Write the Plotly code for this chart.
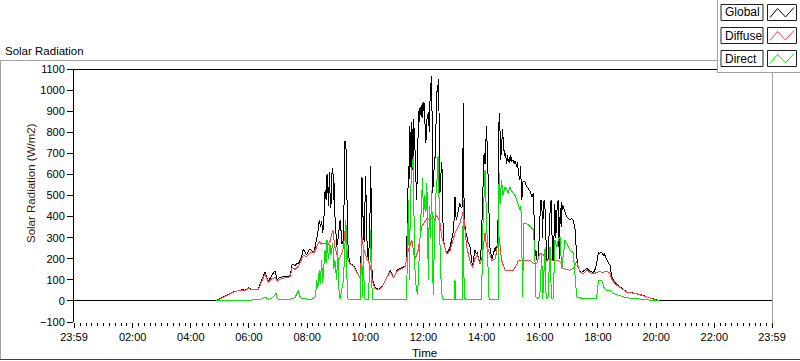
import plotly.graph_objects as go

DAY = "2024-01-02"
PREV = "2024-01-01"

# ---------------- data ----------------
global_times = [
    "00:00", "04:52", "05:00", "05:07", "05:14", "05:21", "05:28", "05:35", "05:41", "05:47",
    "05:52", "05:56", "05:59", "06:03", "06:06", "06:12", "06:19", "06:22", "06:26", "06:30",
    "06:33", "06:36", "06:40", "06:44", "06:47", "06:51", "06:54", "06:56", "06:58", "07:02",
    "07:07", "07:12", "07:18", "07:22", "07:25", "07:27", "07:29", "07:32", "07:35", "07:39",
    "07:42", "07:46", "07:49", "07:52", "07:56", "07:59", "08:03", "08:07", "08:10", "08:14",
    "08:17", "08:20", "08:23", "08:25", "08:28", "08:30", "08:32", "08:34", "08:37", "08:39",
    "08:41", "08:42", "08:44", "08:46", "08:47", "08:49", "08:51", "08:53", "08:55", "08:56",
    "08:57", "08:59", "09:01", "09:04", "09:06", "09:08", "09:10", "09:12", "09:15", "09:17",
    "09:18", "09:20", "09:22", "09:24", "09:26", "09:28", "09:31", "09:35", "09:40", "09:46",
    "09:50", "09:52", "09:53", "09:54", "09:56", "09:58", "09:59", "10:00", "10:01", "10:03",
    "10:06", "10:09", "10:10", "10:11", "10:12", "10:14", "10:17", "10:20", "10:24", "10:27",
    "10:31", "10:34", "10:39", "10:44", "10:48", "10:52", "10:55", "10:58", "11:02", "11:05",
    "11:08", "11:12", "11:17", "11:22", "11:25", "11:27", "11:29", "11:30", "11:32", "11:33",
    "11:35", "11:36", "11:37", "11:38", "11:39", "11:40", "11:41", "11:42", "11:44", "11:46",
    "11:48", "11:50", "11:51", "11:53", "11:54", "11:56", "11:57", "11:58", "12:00", "12:01",
    "12:03", "12:05", "12:07", "12:10", "12:12", "12:14", "12:17", "12:18", "12:19", "12:21",
    "12:24", "12:26", "12:27", "12:29", "12:31", "12:32", "12:33", "12:34", "12:36", "12:38",
    "12:40", "12:41", "12:44", "12:48", "12:52", "12:55", "12:58", "13:01", "13:03", "13:05",
    "13:06", "13:08", "13:11", "13:15", "13:18", "13:21", "13:22", "13:23", "13:24", "13:27",
    "13:29", "13:32", "13:36", "13:39", "13:41", "13:44", "13:46", "13:49", "13:51", "13:54",
    "13:56", "13:59", "14:01", "14:03", "14:05", "14:07", "14:10", "14:12", "14:14", "14:17",
    "14:21", "14:24", "14:28", "14:31", "14:34", "14:36", "14:38", "14:39", "14:41", "14:43",
    "14:45", "14:47", "14:49", "14:52", "14:53", "14:55", "14:57", "14:58", "15:00", "15:02",
    "15:05", "15:07", "15:09", "15:12", "15:14", "15:16", "15:19", "15:20", "15:22", "15:23",
    "15:25", "15:26", "15:29", "15:31", "15:34", "15:37", "15:40", "15:44", "15:47", "15:50",
    "15:52", "15:54", "15:57", "16:00", "16:02", "16:04", "16:06", "16:07", "16:09", "16:11",
    "16:13", "16:14", "16:17", "16:20", "16:22", "16:24", "16:26", "16:28", "16:30", "16:31",
    "16:33", "16:36", "16:38", "16:40", "16:42", "16:44", "16:45", "16:47", "16:48", "16:52",
    "16:55", "16:58", "17:02", "17:06", "17:09", "17:11", "17:13", "17:15", "17:16", "17:19",
    "17:23", "17:26", "17:30", "17:34", "17:37", "17:40", "17:44", "17:47", "17:50", "17:54",
    "17:57", "18:00", "18:01", "18:04", "18:06", "18:08", "18:11", "18:13", "18:15", "18:17",
    "18:19", "18:21", "18:23", "18:25", "18:28", "18:32", "18:38", "18:45", "18:52", "18:59",
    "19:10", "19:20", "19:30", "19:40", "19:50", "20:01", "20:05", "23:59",
]
global_vals = [
    0, 0, 11, 18, 27, 35, 43, 48, 51, 53,
    50, 58, 62, 58, 55, 55, 54, 75, 98, 125,
    138, 115, 95, 108, 122, 135, 143, 125, 100, 108,
    114, 118, 116, 115, 120, 150, 175, 172, 168, 178,
    176, 195, 213, 245, 225, 218, 240, 245, 236, 233,
    260, 297, 340, 384, 350, 380, 322, 360, 527, 480,
    600, 583, 450, 610, 520, 440, 600, 632, 480, 560,
    420, 330, 257, 300, 350, 384, 330, 270, 290, 600,
    757, 740, 400, 273, 210, 178, 172, 170, 150, 122,
    107, 300, 590, 560, 305, 280, 400, 590, 560, 300,
    194, 300, 600, 638, 500, 114, 85, 67, 58, 54,
    60, 67, 85, 114, 130, 143, 130, 114, 125, 146,
    150, 154, 160, 165, 194, 450, 638, 560, 829, 700,
    600, 850, 620, 780, 861, 650, 820, 760, 600, 480,
    700, 900, 850, 920, 880, 930, 870, 940, 900, 943,
    820, 751, 860, 895, 800, 1000, 1067, 900, 511, 600,
    686, 850, 988, 1000, 1051, 900, 700, 511, 600, 657,
    400, 289, 255, 227, 240, 257, 290, 321, 380, 495,
    420, 384, 420, 464, 440, 450, 940, 700, 384, 330,
    305, 280, 257, 200, 162, 210, 241, 225, 230, 200,
    178, 250, 400, 590, 702, 650, 829, 700, 543, 257,
    194, 220, 257, 220, 400, 892, 800, 670, 720, 813,
    750, 686, 700, 650, 690, 660, 680, 654, 690, 660,
    670, 650, 665, 638, 660, 600, 575, 638, 540, 480,
    560, 567, 567, 551, 540, 527, 520, 495, 511, 210,
    240, 194, 200, 384, 480, 470, 300, 450, 480, 430,
    300, 194, 200, 400, 470, 480, 200, 194, 430, 460,
    300, 460, 480, 200, 440, 350, 470, 430, 450, 420,
    400, 395, 384, 390, 384, 360, 337, 250, 210, 160,
    140, 135, 140, 148, 154, 145, 138, 140, 130, 150,
    175, 215, 229, 225, 232, 228, 215, 225, 210, 200,
    194, 180, 175, 170, 120, 98, 80, 67, 55, 43,
    38, 35, 28, 19, 12, 5, 0, 0,
]

diffuse_times = [
    "04:52", "05:00", "05:14", "05:28", "05:41", "05:52", "05:59", "06:06", "06:19", "06:26",
    "06:33", "06:40", "06:47", "06:54", "06:58", "07:07", "07:18", "07:25", "07:29", "07:35",
    "07:42", "07:49", "07:52", "07:59", "08:07", "08:14", "08:20", "08:25", "08:30", "08:37",
    "08:42", "08:47", "08:53", "08:57", "09:01", "09:04", "09:12", "09:15", "09:18", "09:20",
    "09:24", "09:28", "09:35", "09:46", "09:50", "09:53", "09:56", "09:59", "10:03", "10:06",
    "10:11", "10:14", "10:20", "10:27", "10:34", "10:44", "10:52", "10:58", "11:05", "11:12",
    "11:17", "11:22", "11:29", "11:32", "11:36", "11:39", "11:42", "11:46", "11:49", "11:53",
    "11:56", "12:01", "12:07", "12:13", "12:17", "12:20", "12:24", "12:27", "12:31", "12:34",
    "12:38", "12:41", "12:48", "12:55", "13:01", "13:05", "13:15", "13:22", "13:24", "13:29",
    "13:36", "13:41", "13:46", "13:51", "13:56", "14:00", "14:03", "14:07", "14:10", "14:14",
    "14:21", "14:28", "14:36", "14:38", "14:41", "14:48", "14:55", "15:05", "15:12", "15:16",
    "15:26", "15:40", "15:47", "15:54", "16:00", "16:07", "16:14", "16:21", "16:28", "16:38",
    "16:45", "16:48", "17:02", "17:09", "17:16", "17:23", "17:30", "17:37", "17:44", "17:50",
    "18:01", "18:11", "18:19", "18:25", "18:28", "18:35", "18:45", "18:59", "19:20", "19:40",
    "20:05",
]
diffuse_vals = [
    0, 10, 26, 42, 50, 48, 60, 53, 52, 92,
    128, 88, 105, 110, 95, 106, 110, 115, 160, 150,
    165, 205, 215, 210, 230, 228, 260, 281, 270, 273,
    265, 280, 337, 257, 226, 194, 226, 257, 330, 300,
    194, 175, 168, 120, 105, 305, 250, 230, 200, 190,
    162, 98, 59, 52, 64, 110, 138, 110, 140, 150,
    158, 162, 241, 260, 289, 240, 194, 220, 241, 300,
    353, 368, 392, 380, 395, 400, 380, 408, 390, 370,
    300, 280, 222, 240, 290, 321, 368, 424, 380, 257,
    190, 158, 200, 220, 175, 194, 250, 321, 260, 240,
    190, 200, 305, 250, 194, 146, 142, 146, 170, 194,
    194, 192, 178, 180, 226, 220, 190, 200, 190, 194,
    178, 154, 146, 154, 186, 135, 130, 146, 135, 128,
    138, 136, 140, 130, 105, 80, 65, 42, 34, 18,
    0,
]

direct_times = [
    "04:52", "05:59", "06:19", "06:26", "06:33", "06:40", "06:47", "06:56", "06:58", "07:10",
    "07:25", "07:35", "07:42", "07:46", "07:52", "08:10", "08:17", "08:20", "08:22", "08:25",
    "08:27", "08:30", "08:32", "08:34", "08:37", "08:39", "08:41", "08:44", "08:47", "08:49",
    "08:53", "08:55", "08:57", "09:01", "09:03", "09:06", "09:08", "09:15", "09:17", "09:20",
    "09:23", "09:28", "09:50", "09:52", "09:54", "09:56", "09:58", "10:06", "10:10", "10:11",
    "10:13", "10:15", "11:25", "11:27", "11:29", "11:31", "11:33", "11:36", "11:39", "11:41",
    "11:43", "11:46", "11:48", "11:51", "11:53", "11:55", "11:58", "12:00", "12:03", "12:05",
    "12:07", "12:10", "12:12", "12:14", "12:17", "12:20", "12:22", "12:25", "12:27", "12:30",
    "12:33", "12:35", "12:38", "12:41", "13:03", "13:05", "13:07", "13:20", "13:21", "13:22",
    "13:24", "13:27", "14:00", "14:02", "14:07", "14:10", "14:12", "14:15", "14:17", "14:34",
    "14:36", "14:38", "14:41", "14:44", "14:48", "14:52", "14:55", "14:58", "15:02", "15:05",
    "15:09", "15:12", "15:16", "15:19", "15:21", "15:24", "15:25", "15:26", "15:31", "15:37",
    "15:44", "15:47", "15:50", "15:52", "15:57", "16:00", "16:04", "16:06", "16:11", "16:13",
    "16:17", "16:21", "16:24", "16:28", "16:31", "16:35", "16:38", "16:42", "16:45", "16:52",
    "16:58", "17:02", "17:09", "17:13", "17:16", "17:30", "17:57", "18:01", "18:08", "18:13",
    "18:17", "18:25", "18:32", "18:59", "19:40", "20:05",
]
direct_vals = [
    0, 5, 5, 10, 19, 8, 12, 35, 10, 5,
    8, 15, 50, 15, 10, 8, 20, 98, 60, 146,
    80, 194, 84, 150, 241, 180, 289, 200, 270, 220,
    273, 150, 194, 98, 257, 35, 10, 100, 200, 384,
    10, 5, 5, 257, 20, 257, 10, 5, 200, 337,
    100, 5, 5, 200, 480, 100, 500, 622, 686, 300,
    100, 50, 30, 200, 305, 430, 583, 400, 500, 420,
    559, 100, 450, 300, 520, 30, 200, 500, 527, 686,
    400, 150, 30, 5, 5, 98, 5, 5, 200, 480,
    20, 5, 5, 321, 622, 400, 200, 20, 5, 5,
    606, 460, 575, 500, 540, 527, 510, 540, 520, 510,
    500, 480, 450, 432, 448, 200, 20, 368, 368, 360,
    340, 337, 194, 20, 10, 20, 226, 10, 257, 10,
    20, 257, 10, 15, 289, 257, 289, 305, 150, 289,
    260, 241, 230, 130, 19, 10, 10, 98, 95, 60,
    50, 50, 35, 15, 5, 0,
]

series_names = ["Global", "Diffuse", "Direct"]
series_colors = ["#000000", "#FF4040", "#00E600"]

tick_labels = ["23:59", "02:00", "04:00", "06:00", "08:00", "10:00", "12:00",
               "14:00", "16:00", "18:00", "20:00", "22:00", "23:59"]
tick_days = [PREV] + [DAY] * 12
y_range = [-100, 1100]

# ---------------- figure ----------------
W, H = 800, 361
L, R, T, B = 74, 28, 69, 39
PW, PH = W - L - R, H - T - B


def px(x):
    return (x - L) / PW


def py(y):
    return (H - B - y) / PH


FONT = "Liberation Sans"

fig = go.Figure()
all_times = [global_times, diffuse_times, direct_times]
all_vals = [global_vals, diffuse_vals, direct_vals]
for name, color, ts, vs in zip(series_names, series_colors, all_times, all_vals):
    fig.add_trace(go.Scatter(
        x=[DAY + " " + t for t in ts], y=vs, mode="lines", name=name,
        line=dict(color=color, width=1), showlegend=False, hoverinfo="skip",
    ))

tick_vals = [d + " " + t for d, t in zip(tick_days, tick_labels)]

fig.update_layout(
    width=W, height=H, autosize=False,
    margin=dict(l=L, r=R, t=T, b=B, pad=0),
    paper_bgcolor="white", plot_bgcolor="white",
    font=dict(family=FONT, size=11, color="black"),
    xaxis=dict(
        type="date", range=[tick_vals[0], tick_vals[-1]],
        tickmode="array", tickvals=tick_vals, ticktext=tick_labels,
        ticks="outside", ticklen=5, tickcolor="black", tickwidth=1,
        showgrid=False, zeroline=False, showline=False,
        tickfont=dict(family=FONT, size=11, color="black"),
        minor=dict(tickmode="linear", tick0=DAY + " 00:00", dtick=12 * 60 * 1000,
                   ticks="outside", ticklen=3, tickcolor="black", showgrid=False),
    ),
    yaxis=dict(
        range=y_range, tickmode="linear", tick0=0, dtick=100,
        ticks="outside", ticklen=6, tickcolor="black", tickwidth=1,
        showgrid=False, zeroline=False, showline=True, linecolor="black", linewidth=1,
        tickfont=dict(family=FONT, size=11, color="black"),
    ),
)

shapes = []


def hline(y, x0, x1, color, width=1):
    shapes.append(dict(type="line", xref="paper", yref="paper", x0=px(x0), x1=px(x1),
                       y0=py(y), y1=py(y), line=dict(color=color, width=width), layer="above"))


def vline(x, y0, y1, color, width=1):
    shapes.append(dict(type="line", xref="paper", yref="paper", x0=px(x), x1=px(x),
                       y0=py(y0), y1=py(y1), line=dict(color=color, width=width), layer="above"))


# outer frame
hline(60.5, 0, 717, "#a0a0a0")
vline(0.5, 60.5, 360, "#a0a0a0")
hline(359.5, 0, 800, "#404040")
# plot frame (top black, right gray)
hline(69.5, 74, 717, "#000000")
vline(772.5, 72, 322, "#a0a0a0")

# legend panel
shapes.append(dict(type="rect", xref="paper", yref="paper", x0=px(717), x1=px(800),
                   y0=py(0), y1=py(72.5), fillcolor="white", line=dict(width=0), layer="above"))
vline(717.5, 0, 72.5, "#a0a0a0")
hline(72.5, 717, 800, "#a0a0a0")

row_tops = [4.5, 27.5, 50.5]
for top, name, color in zip(row_tops, series_names, series_colors):
    shapes.append(dict(type="rect", xref="paper", yref="paper", x0=px(721), x1=px(763),
                       y0=py(top), y1=py(top + 16), line=dict(color="#202020", width=1),
                       fillcolor="white", layer="above"))
    shapes.append(dict(type="rect", xref="paper", yref="paper", x0=px(767.5), x1=px(796.5),
                       y0=py(top), y1=py(top + 16), line=dict(color="#202020", width=1),
                       fillcolor="white", layer="above"))
    zz = [(770, 13), (777.5, 4), (785.5, 12.5), (794, 3)]
    path = "M " + " L ".join(f"{px(x)},{py(top + dy)}" for x, dy in zz)
    shapes.append(dict(type="path", xref="paper", yref="paper", path=path,
                       line=dict(color=color, width=1), layer="above"))

fig.update_layout(shapes=shapes)

annotations = []
for top, name in zip(row_tops, series_names):
    annotations.append(dict(text=name, xref="paper", yref="paper", x=px(723), y=py(top + 8),
                            xanchor="left", yanchor="middle", showarrow=False,
                            font=dict(family=FONT, size=12, color="black")))
annotations.append(dict(text="Solar Radiation", xref="paper", yref="paper", x=px(3), y=py(51),
                        xanchor="left", yanchor="middle", showarrow=False,
                        font=dict(family=FONT, size=11.5, color="black")))
annotations.append(dict(text="Solar Radiation (W/m2)", xref="paper", yref="paper",
                        x=px(31), y=py(183), xanchor="center", yanchor="middle",
                        textangle=-90, showarrow=False,
                        font=dict(family=FONT, size=11.5, color="#3c1a0a")))
annotations.append(dict(text="Time", xref="paper", yref="paper", x=px(424), y=py(353),
                        xanchor="center", yanchor="middle", showarrow=False,
                        font=dict(family=FONT, size=11.5, color="black")))
fig.update_layout(annotations=annotations)

fig.write_html(
    "out.html",
    config={"displayModeBar": False, "staticPlot": True},
    post_script=(
        "document.body.style.margin='0px';document.body.style.overflow='hidden';"
        "document.querySelectorAll('.scatterlayer path.js-line').forEach("
        "function(p){p.style.shapeRendering='crispEdges';});"
    ),
)
